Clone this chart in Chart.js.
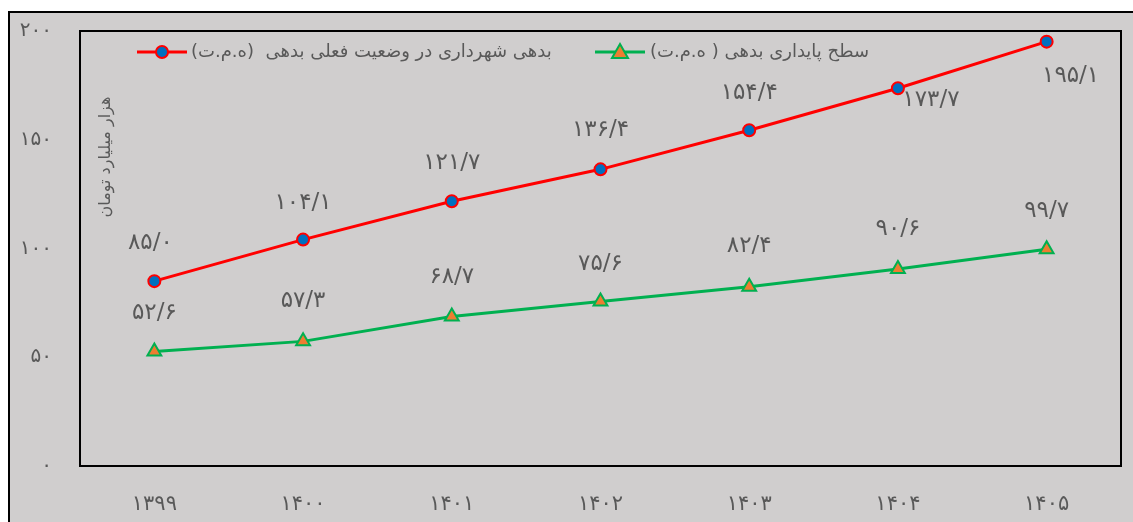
<!DOCTYPE html>
<html><head><meta charset="utf-8">
<script src="https://cdn.jsdelivr.net/npm/chart.js@4.4.1/dist/chart.umd.min.js"></script>
<style>html,body{margin:0;padding:0;background:#fff;}#wrap{width:1133px;height:522px;position:relative;}</style>
</head><body><div id="wrap"><canvas id="c" width="1133" height="522"></canvas></div>
<script>
const categories = ['۱۳۹۹','۱۴۰۰','۱۴۰۱','۱۴۰۲','۱۴۰۳','۱۴۰۴','۱۴۰۵'];
const debtCurrent = [85.0, 104.1, 121.7, 136.4, 154.4, 173.7, 195.1];
const debtSustainable = [52.6, 57.3, 68.7, 75.6, 82.4, 90.6, 99.7];
const yTickLabels = {0:'۰',50:'۵۰',100:'۱۰۰',150:'۱۵۰',200:'۲۰۰'};
const seriesNames = ['بدهی شهرداری در وضعیت فعلی بدهی  (ه.م.ت)', 'سطح پایداری بدهی ( ه.م.ت)'];
const yTitle = 'هزار میلیارد تومان';

const BG = '#d0cece', TXT = '#595959';
const fa = d => String(d).replace(/[0-9]/g, c => '۰۱۲۳۴۵۶۷۸۹'[+c]);
const fmt = v => fa(v.toFixed(1)).replace('.', '/');

// label offsets (dx, dy) relative to each point
const redOffsets = [[-4,-38],[0,-37],[0,-38],[0,-39],[0,-37],[33,12],[24,34]];
const greenOffsets = [[0,-39],[0,-40],[0,-40],[0,-38],[0,-41],[0,-40],[0,-38]];

const deco = {
  id: 'deco',
  beforeDraw(chart) {
    const ctx = chart.ctx, a = chart.chartArea;
    ctx.save();
    ctx.fillStyle = '#fff'; ctx.fillRect(0,0,chart.width,chart.height);
    ctx.fillStyle = BG; ctx.fillRect(9,12,chart.width,chart.height);
    ctx.strokeStyle = '#000'; ctx.lineWidth = 2;
    ctx.strokeRect(9,12,chart.width+10,chart.height+10);
    ctx.strokeRect(a.left, a.top, a.right-a.left, a.bottom-a.top);
    // y title
    ctx.translate(106, 157); ctx.rotate(-Math.PI/2);
    ctx.fillStyle = TXT; ctx.font = '16px "DejaVu Sans"';
    ctx.textAlign = 'center'; ctx.textBaseline = 'middle'; ctx.direction = 'rtl';
    ctx.fillText(yTitle, 0, 0);
    ctx.restore();
    // legend
    ctx.save();
    const items = [
      {x:137, text:seriesNames[0], line:'#ff0000', type:'circle', fill:'#0070c0', tx:191},
      {x:595, text:seriesNames[1], line:'#00b050', type:'triangle', fill:'#ed7d31', tx:650}
    ];
    const ly = 52;
    items.forEach(it => {
      ctx.strokeStyle = it.line; ctx.lineWidth = 3;
      ctx.beginPath(); ctx.moveTo(it.x, ly); ctx.lineTo(it.x+50, ly); ctx.stroke();
      ctx.fillStyle = it.fill; ctx.lineWidth = 2;
      ctx.beginPath();
      if (it.type === 'circle') { ctx.arc(it.x+25, ly, 6, 0, Math.PI*2); }
      else { ctx.moveTo(it.x+25, ly-8); ctx.lineTo(it.x+33, ly+6); ctx.lineTo(it.x+17, ly+6); ctx.closePath(); }
      ctx.fill(); ctx.stroke();
      ctx.fillStyle = TXT; ctx.font = '18px "DejaVu Sans"';
      ctx.textBaseline = 'middle'; ctx.direction = 'rtl';
      const w = ctx.measureText(it.text).width;
      ctx.textAlign = 'right';
      ctx.fillText(it.text, it.tx + w, ly);
    });
    ctx.restore();
  },
  afterDatasetsDraw(chart) {
    const ctx = chart.ctx;
    ctx.save();
    ctx.fillStyle = TXT; ctx.font = '23px "DejaVu Sans"';
    ctx.textAlign = 'center'; ctx.textBaseline = 'middle'; ctx.direction = 'ltr';
    [[0, debtCurrent, redOffsets],[1, debtSustainable, greenOffsets]].forEach(([i, vals, offs]) => {
      chart.getDatasetMeta(i).data.forEach((pt, j) => {
        ctx.fillText(fmt(vals[j]), pt.x + offs[j][0], pt.y + offs[j][1]);
      });
    });
    ctx.restore();
  }
};

new Chart(document.getElementById('c'), {
  type: 'line',
  data: {
    labels: categories,
    datasets: [
      {label: seriesNames[0], data: debtCurrent, borderColor:'#ff0000', borderWidth:3,
       pointStyle:'circle', pointRadius:6, pointBackgroundColor:'#0070c0', pointBorderColor:'#ff0000', pointBorderWidth:2, tension:0},
      {label: seriesNames[1], data: debtSustainable, borderColor:'#00b050', borderWidth:3,
       pointStyle:'triangle', pointRadius:8, pointBackgroundColor:'#ed7d31', pointBorderColor:'#00b050', pointBorderWidth:2, tension:0}
    ]
  },
  options: {
    responsive:false, animation:false,
    layout:{padding:{left:0, right:12, top:31, bottom:0}},
    plugins:{legend:{display:false}, tooltip:{enabled:false}},
    scales:{
      x:{grid:{display:false, drawTicks:false}, border:{display:false}, offset:true,
         ticks:{color:TXT, font:{family:'DejaVu Sans', size:21}, padding:26},
         afterFit(s){ s.height = 56; s.paddingLeft = 0; s.paddingRight = 0; }},
      y:{min:0, max:200, grid:{display:false, drawTicks:false}, border:{display:false},
         ticks:{stepSize:50, color:TXT, font:{family:'DejaVu Sans', size:20}, padding:28,
                callback:v => yTickLabels[v] ?? ''},
         afterFit(s){ s.width = 80; s.paddingTop = 0; s.paddingBottom = 0; }}
    }
  },
  plugins:[deco]
});
</script></body></html>
